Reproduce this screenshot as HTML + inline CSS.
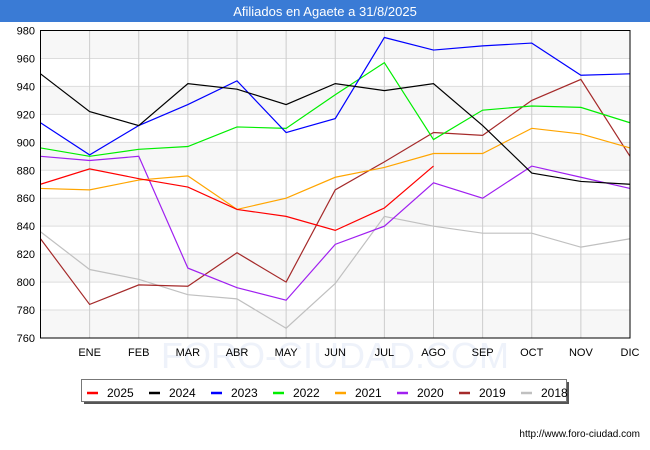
<!DOCTYPE html>
<html><head><meta charset="utf-8"><style>
body{margin:0;width:650px;height:450px;background:#fff;font-family:"Liberation Sans",sans-serif;overflow:hidden}
</style></head><body>
<svg width="650" height="450" style="position:absolute;left:0;top:0">
<rect x="0" y="0" width="650" height="22" fill="#3a7bd5"/>
<text x="325" y="16" text-anchor="middle" fill="#fff" font-size="13">Afiliados en Agaete a 31/8/2025</text>
<g id="grid"></g>
<g id="series"></g>
<rect x="40.5" y="30.5" width="589.5" height="307.5" fill="none" stroke="#000" stroke-width="1"/>
<g id="axes" font-size="11" fill="#000"></g>
<g>
<rect x="84" y="382" width="485" height="22" fill="#555"/>
<rect x="81.5" y="379.5" width="485" height="22" fill="#fff" stroke="#777"/>
<g id="legend"></g>
</g>
<text x="640" y="437" text-anchor="end" font-size="10">http://www.foro-ciudad.com</text>
</svg>
<script>
const months=["","ENE","FEB","MAR","ABR","MAY","JUN","JUL","AGO","SEP","OCT","NOV","DIC"];
const yTicks=[760,780,800,820,840,860,880,900,920,940,960,980];
const years=["2025","2024","2023","2022","2021","2020","2019","2018"];
const colors=["#ff0000","#000000","#0000ff","#00ee00","#ffa500","#a020f0","#a52a2a","#c0c0c0"];
const s2025=[870,881,874,868,852,847,837,853,883];
const s2024=[949,922,912,942,938,927,942,937,942,912,878,872,870];
const s2023=[914,891,912,927,944,907,917,975,966,969,971,948,949];
const s2022=[896,890,895,897,911,910,934,957,902,923,926,925,914];
const s2021=[867,866,873,876,852,860,875,882,892,892,910,906,896];
const s2020=[890,887,890,810,796,787,827,840,871,860,883,875,867];
const s2019=[831,784,798,797,821,800,866,886,907,905,930,945,890];
const s2018=[836,809,802,791,788,767,799,847,840,835,835,825,831];
const series=[s2025,s2024,s2023,s2022,s2021,s2020,s2019,s2018];
const NS="http://www.w3.org/2000/svg";
const X0=40.5,X1=630,Y0=338,Y1=30.5,VMIN=760,VMAX=980;
const xs=i=>X0+(X1-X0)*i/(months.length-1);
const ys=v=>Y0-(v-VMIN)/(VMAX-VMIN)*(Y0-Y1);
function mk(t,a,p){const e=document.createElementNS(NS,t);for(const k in a)e.setAttribute(k,a[k]);p.appendChild(e);return e;}
const grid=document.getElementById('grid'),axes=document.getElementById('axes');
for(let k=0;k<yTicks.length-1;k++){
  if((yTicks.length-2-k)%2===0){
    const r=mk('rect',{x:X0,y:ys(yTicks[k+1]),width:X1-X0,height:ys(yTicks[k])-ys(yTicks[k+1]),fill:'#f7f7f7'},grid);
    
    
  }
}
yTicks.forEach(v=>{
  const l=mk('line',{x1:X0,x2:X1,y1:ys(v),y2:ys(v),stroke:'#ddd'},grid);
  
  
  const t=mk('text',{x:35,y:ys(v)+4,'text-anchor':'end'},axes);t.textContent=v;
  
  
});
months.forEach((m,i)=>{
  if(i>0){const l=mk('line',{x1:xs(i),x2:xs(i),y1:Y1,y2:Y0,stroke:'#ccc'},grid);
  
  }
  if(m){const t=mk('text',{x:xs(i),y:356,'text-anchor':'middle'},axes);t.textContent=m;
  
  }
});
const wm=mk('text',{x:335,y:368,'text-anchor':'middle','font-size':'36',fill:'#eef2fa'},grid);wm.textContent='FORO-CIUDAD.COM';


const sg=document.getElementById('series');
for(let s=series.length-1;s>=0;s--){
  const p=mk('polyline',{points:series[s].map((v,i)=>xs(i)+','+ys(v)).join(' '),fill:'none',stroke:colors[s],'stroke-width':1.2},sg);
  
  
}
const lg=document.getElementById('legend');
years.forEach((y,i)=>{
  const x=87+i*62;
  const l=mk('line',{x1:x,x2:x+11,y1:393,y2:393,stroke:colors[i],'stroke-width':2.5},lg);
  
  
  const t=mk('text',{x:x+20,y:397,'font-size':'12'},lg);t.textContent=y;
  
  
});
</script>
</body></html>
